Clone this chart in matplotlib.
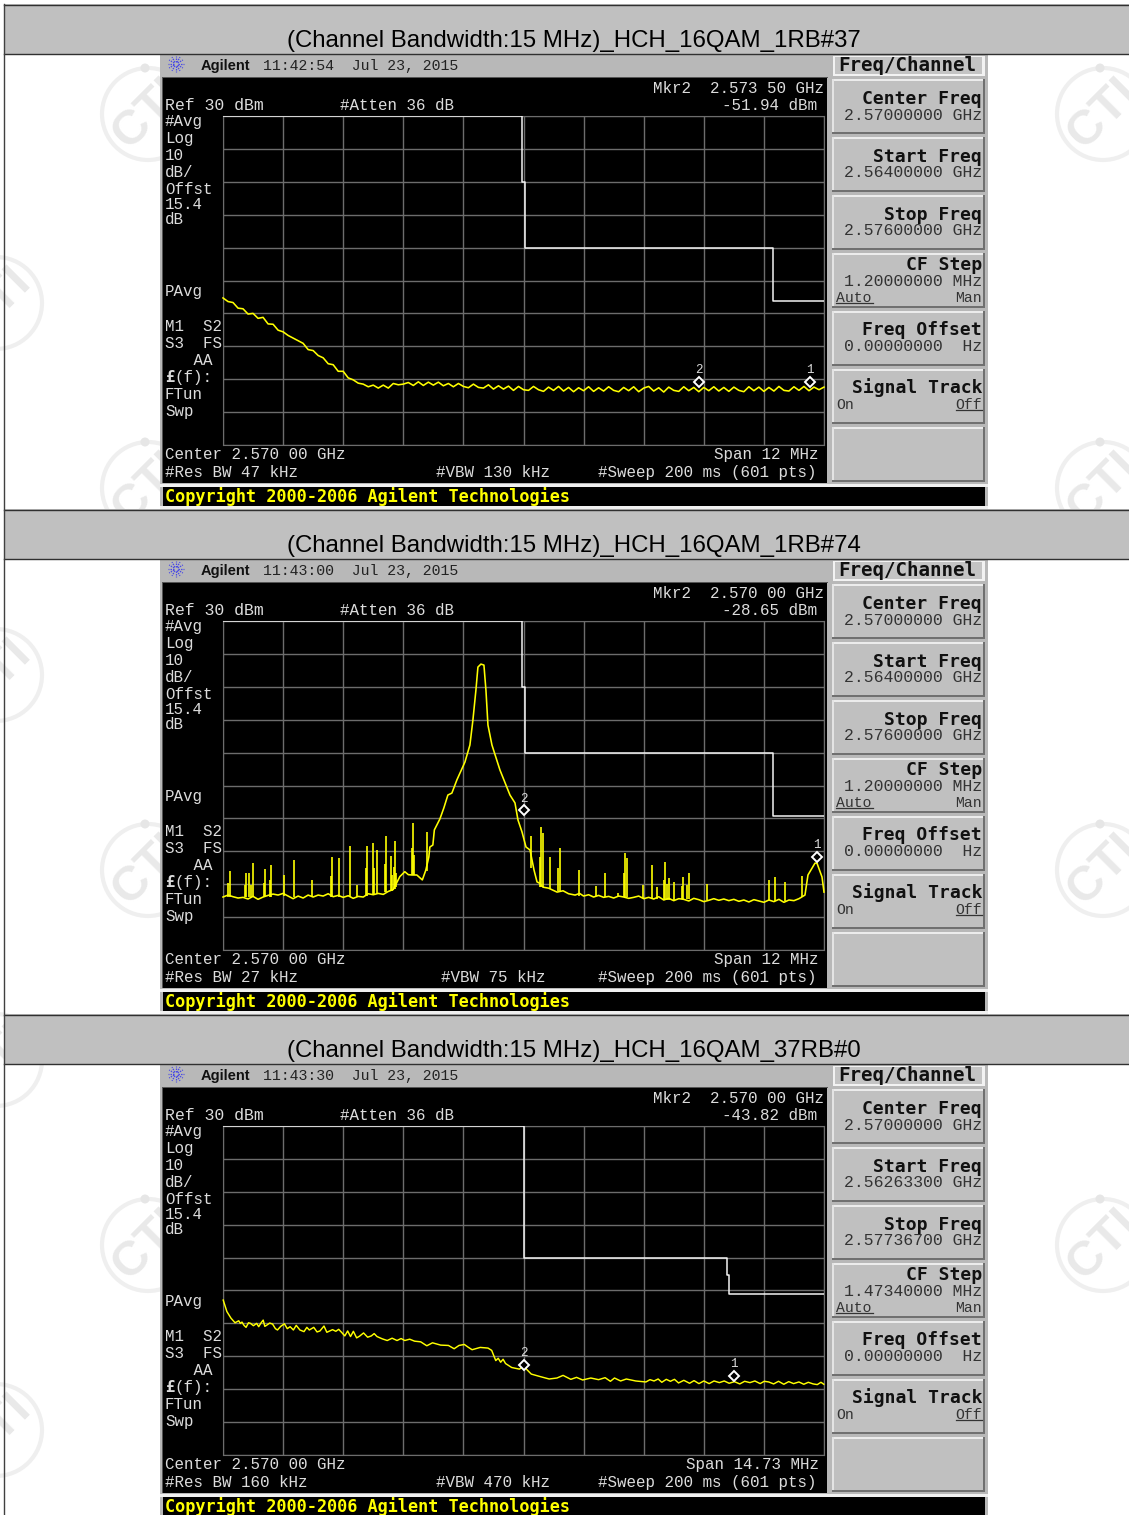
import matplotlib
matplotlib.use("Agg")
import matplotlib.pyplot as plt
import numpy as np
from matplotlib.patches import Rectangle, Circle

W, H = 1129, 1515

# text per panel
titles = ["(Channel Bandwidth:15 MHz)_HCH_16QAM_1RB#37",
          "(Channel Bandwidth:15 MHz)_HCH_16QAM_1RB#74",
          "(Channel Bandwidth:15 MHz)_HCH_16QAM_37RB#0"]
times = ["11:42:54", "11:43:00", "11:43:30"]
mkr_freq_txt = ["2.573 50 GHz", "2.570 00 GHz", "2.570 00 GHz"]
mkr_level_txt = ["-51.94 dBm", "-28.65 dBm", "-43.82 dBm"]
res_bw = ["47 kHz", "27 kHz", "160 kHz"]
vbw = ["130 kHz", "75 kHz", "470 kHz"]
vbw_x = [436, 441, 436]
span_txt = ["12 MHz", "12 MHz", "14.73 MHz"]
start_freq = ["2.56400000 GHz", "2.56400000 GHz", "2.56263300 GHz"]
stop_freq = ["2.57600000 GHz", "2.57600000 GHz", "2.57736700 GHz"]
cf_step = ["1.20000000 MHz", "1.20000000 MHz", "1.47340000 MHz"]
spans = [12.0, 12.0, 14.73]

# limit lines (MHz from center, dBm)
limit_f = [[-6, -0.02, -0.02, 0.02, 0.02, 4.98, 4.98, 6],
           [-6, -0.02, -0.02, 0.02, 0.02, 4.98, 4.98, 6],
           [-7.365, 0.0, 0.0, 4.99, 4.99, 5.04, 5.04, 7.365]]
limit_db = [[30, 30, 10, 10, -10, -10, -26.2, -26.2],
            [30, 30, 10, 10, -10, -10, -29.3, -29.3],
            [30, 30, -10, -10, -15.2, -15.2, -21, -21]]

# markers (MHz, dBm)
m1_f = [5.72, 5.86, 5.16]
m1_db = [-51.9, -42.8, -47.1]
m2_f = [3.5, 0.0, 0.0]
m2_db = [-51.94, -28.65, -43.82]

# panel 1 trace, even sweep steps
trace1_db = [-25.3, -26.4, -26.7, -28.4, -28.6, -30.2, -30.0, -31.5, -31.2, -33.2,
             -33.3, -35.1, -35.6, -36.7, -37.5, -38.3, -39.1, -41.0, -41.3, -42.8,
             -43.5, -45.3, -45.6, -47.6, -47.6, -49.6, -50.2, -51.2, -51.5, -52.3,
             -51.8, -52.7, -51.8, -52.7, -51.3, -51.7, -51.5, -51.0, -51.9, -50.8,
             -51.9, -50.9, -51.8, -50.9, -52.0, -51.3, -52.3, -51.3, -52.2, -52.6,
             -51.5, -52.5, -52.7, -51.7, -53.0, -52.0, -53.0, -52.1, -53.4, -52.2,
             -53.2, -53.4, -52.2, -53.2, -53.7, -52.4, -53.4, -52.2, -53.6, -52.5,
             -53.8, -52.6, -53.5, -52.3, -53.7, -52.6, -53.6, -52.3, -53.4, -53.8,
             -52.5, -53.5, -52.3, -53.8, -52.7, -52.2, -53.6, -52.6, -53.9, -52.4,
             -53.4, -53.7, -52.3, -53.5, -52.5, -53.8, -52.5, -53.5, -52.3, -53.6,
             -52.5, -53.7, -52.4, -53.4, -53.8, -52.3, -53.5, -52.4, -53.7, -52.5,
             -53.6, -52.2, -53.4, -53.6, -52.3, -53.4, -52.2, -53.5, -52.4, -53.2, -52.4]

# panel 2 trace floor and peak
trace2_f = [-6.0, -5.9, -5.8, -5.7, -5.6, -5.5, -5.4, -5.3, -5.2, -5.1, -5.0, -4.9, -4.8,
            -4.7, -4.6, -4.5, -4.4, -4.3, -4.2, -4.1, -4.0, -3.9, -3.8, -3.7, -3.6, -3.5,
            -3.4, -3.3, -3.2, -3.1, -3.0, -2.9, -2.8, -2.7, -2.6, -2.47, -2.37, -2.3, -2.23,
            -2.13, -2.02, -1.95, -1.89, -1.87, -1.81, -1.78, -1.67, -1.59, -1.51, -1.43,
            -1.33, -1.17, -1.07, -1.01, -0.95, -0.91, -0.85, -0.79, -0.75, -0.71, -0.63,
            -0.47, -0.27, -0.17, -0.11, -0.03, 0.05, 0.13, 0.21, 0.27, 0.31, 0.39, 0.5,
            0.67, 0.79, 0.9, 1.03, 1.12, 1.2, 1.3, 1.4, 1.5, 1.6, 1.7, 1.8, 1.9, 2.0, 2.1,
            2.2, 2.3, 2.4, 2.5, 2.6, 2.7, 2.8, 2.9, 3.0, 3.1, 3.2, 3.3, 3.4, 3.5, 3.6, 3.7,
            3.8, 3.9, 4.0, 4.1, 4.2, 4.3, 4.4, 4.5, 4.6, 4.7, 4.8, 4.9, 5.0, 5.1, 5.2, 5.3,
            5.4, 5.5, 5.62, 5.68, 5.82, 5.86, 5.96, 6.0]
trace2_db = [-53.9, -53.3, -53.8, -54.2, -54.0, -54.5, -53.7, -54.6, -53.9, -53.4, -53.0,
             -53.3, -52.8, -53.6, -54.4, -53.6, -54.2, -53.3, -53.9, -53.3, -53.6, -52.9,
             -53.8, -53.4, -54.0, -53.5, -54.3, -53.7, -53.9, -52.9, -53.2, -52.8, -53.1,
             -52.2, -51.6, -47.7, -46.2, -47.1, -47.2, -47.2, -48.7, -45.7, -41.7, -38.7,
             -38.1, -33.5, -30.2, -26.8, -22.9, -22.3, -18.3, -12.9, -7.7, -0.1, 9.0, 16.0,
             16.9, 16.6, 9.0, -1.6, -7.7, -15.3, -22.9, -25.3, -30.5, -34.1, -38.7, -39.6,
             -45.7, -49.3, -49.6, -50.9, -51.2, -52.4, -52.0, -52.9, -53.3, -52.8, -53.6,
             -53.2, -53.9, -53.4, -54.0, -53.7, -54.2, -53.6, -53.9, -54.3, -54.0, -53.6,
             -54.4, -54.0, -54.5, -53.8, -54.8, -54.3, -55.0, -54.4, -54.6, -55.1, -54.3,
             -54.7, -55.3, -54.9, -54.4, -54.9, -54.5, -55.0, -54.6, -55.2, -54.8, -55.4,
             -54.7, -55.1, -55.5, -54.8, -55.3, -54.6, -55.5, -54.8, -55.0, -54.4, -53.3,
             -47.2, -43.6, -43.6, -47.8, -52.4]

# panel 2 spurs
spur2_f = [-5.87, -5.54, -5.48, -5.41, -5.16, -5.05, -4.78, -4.58, -4.22, -3.82, -3.69, -3.46,
           -3.33, -3.12, -3.01, -2.92, -2.75, -2.65, -2.57, -2.21, -1.93, 0.15, 0.35, 0.52,
           0.73, 1.10, 1.45, 1.63, 1.88, 2.03, 2.39, 2.57, 2.66, 2.83, 2.91, 3.00, 3.18, 3.26,
           3.31, 3.66, 4.91, 5.02, 5.22, 5.56,
           -5.91, -5.56, -5.45, -5.18, -5.07, -3.84, -3.14, -2.98, -2.77, -2.63, -2.59, -2.55,
           -2.23, -2.19, 0.33, 0.38, 0.69, 2.0, 2.06, 2.81, 2.86, 3.16]
spur2_db = [-45.9, -46.7, -46.7, -43.6, -45.5, -44.2, -47.2, -42.6, -48.7, -41.6, -42.1, -38.4,
            -50.2, -38.4, -37.6, -39.6, -35.3, -41.4, -36.8, -31.5, -34.0, -35.3, -32.7, -41.8,
            -39.1, -45.7, -50.5, -46.7, -52.8, -40.4, -50.2, -44.2, -50.8, -43.2, -48.2, -49.2,
            -47.9, -50.2, -46.7, -49.9, -48.7, -47.7, -49.2, -47.5,
            -49.7, -50.2, -50.2, -49.5, -48.7, -47.5, -45.1, -45.1, -43.9, -47.2, -44.7, -46.5,
            -39.0, -41.0, -41.6, -34.4, -45.1, -46.6, -42.0, -48.7, -50.0, -50.5]
spur2_foot = [-54.0, -54.0, -54.0, -54.0, -53.8, -53.8, -53.5, -53.8, -53.5, -53.8, -53.8, -53.8,
              -53.8, -53.6, -53.2, -53.0, -52.5, -52.0, -51.6, -47.2, -46.0, -45.0, -50.8, -51.5,
              -52.2, -53.5, -53.6, -53.9, -54.0, -54.0, -54.2, -54.4, -54.4, -54.8, -54.8, -54.8,
              -54.6, -54.6, -54.6, -54.9, -55.0, -55.0, -55.0, -53.8,
              -54.0, -54.0, -54.0, -53.8, -53.8, -53.8, -53.6, -53.2, -52.5, -52.0, -51.6, -51.0,
              -47.2, -47.2, -50.8, -50.8, -52.2, -54.0, -54.0, -54.8, -54.8, -54.6]

# panel 3 trace
trace3_f = [-7.36, -7.27, -7.17, -7.07, -6.98, -6.94, -6.90, -6.85, -6.80, -6.74, -6.69, -6.62,
            -6.54, -6.49, -6.43, -6.38, -6.34, -6.30, -6.22, -6.15, -6.08, -6.03, -5.95, -5.86,
            -5.79, -5.72, -5.64, -5.57, -5.48, -5.38, -5.31, -5.25, -5.14, -5.06, -4.99, -4.89,
            -4.82, -4.75, -4.68, -4.6, -4.53, -4.46, -4.38, -4.31, -4.24, -4.17, -4.09, -4.02,
            -3.92, -3.82, -3.73, -3.66, -3.59, -3.46, -3.34, -3.22, -3.10, -3.0, -2.91, -2.79,
            -2.67, -2.52, -2.37, -2.23, -2.03, -1.84, -1.70, -1.58, -1.45, -1.36, -1.26, -1.06,
            -0.87, -0.78, -0.68, -0.62, -0.56, -0.50, -0.44, -0.29, -0.10, 0.0, 0.19, 0.39, 0.63,
            0.82, 0.97, 1.16, 1.3, 1.45, 1.65, 1.84, 2.0, 2.13, 2.23, 2.38, 2.52, 2.75, 3.00,
            3.1, 3.2, 3.3, 3.39, 3.5, 3.6, 3.7, 3.8, 3.93, 4.07, 4.18, 4.3, 4.42, 4.55, 4.67,
            4.8, 4.92, 5.04, 5.17, 5.3, 5.42, 5.55, 5.67, 5.8, 5.9, 6.01, 6.13, 6.25, 6.38, 6.5,
            6.62, 6.75, 6.87, 6.98, 7.1, 7.2, 7.29, 7.36]
trace3_db = [-22.9, -26.4, -28.4, -29.8, -29.2, -30.0, -29.6, -30.6, -31.2, -29.8, -30.0, -30.7,
             -30.0, -31.0, -29.8, -29.0, -30.9, -30.6, -29.9, -30.2, -31.6, -32.0, -30.9, -30.1,
             -31.6, -31.0, -32.0, -30.6, -32.0, -32.5, -31.2, -32.0, -31.2, -32.6, -32.3, -30.8,
             -32.7, -32.3, -31.9, -32.4, -31.8, -32.7, -33.8, -32.3, -34.0, -32.4, -34.4, -33.9,
             -32.9, -34.2, -33.8, -33.1, -34.0, -34.7, -35.2, -34.5, -35.2, -34.6, -35.2, -34.8,
             -35.4, -35.6, -36.8, -35.9, -36.6, -36.7, -37.7, -36.7, -36.4, -37.2, -38.0, -37.3,
             -37.5, -38.2, -41.3, -40.6, -41.8, -40.9, -42.2, -43.4, -43.9, -43.0, -45.4, -46.1,
             -46.9, -46.6, -45.8, -47.0, -46.4, -47.2, -46.6, -47.1, -46.5, -47.6, -46.6, -47.5,
             -46.9, -47.5, -47.8, -47.1, -47.5, -46.9, -47.9, -47.0, -47.6, -47.0, -48.1, -47.3,
             -48.2, -47.4, -48.3, -47.5, -48.3, -47.5, -48.0, -47.5, -48.2, -47.7, -48.4, -47.6,
             -48.0, -47.5, -48.3, -47.6, -47.8, -48.4, -47.6, -48.5, -47.7, -48.3, -47.8, -48.5,
             -47.9, -48.4, -48.6, -47.9, -48.5]

# softkey panel
key_tops = [79, 137, 195, 253, 311, 369, 427]
SCREEN_TXT = "#dcdcdc"
MONO = "Liberation Mono"
BOLD = "DejaVu Sans Mono"

fig = plt.figure(figsize=(W / 100, H / 100), dpi=100, facecolor="white")
bg = fig.add_axes([0, 0, 1, 1])
bg.set_xlim(0, W)
bg.set_ylim(H, 0)
bg.axis("off")


def rect(x0, y0, x1, y1, color, z=2):
    bg.add_patch(Rectangle((x0, y0), x1 - x0, y1 - y0, facecolor=color, edgecolor="none", zorder=z))


def label(x, y, s, size=11.4, color=SCREEN_TXT, ha="left", family=MONO, weight="normal"):
    bg.text(x, y + 0.8, s, fontsize=size, color=color, ha=ha, va="center", family=family, weight=weight, zorder=6)


def watermark(x, y):
    bg.add_patch(Circle((x, y), 46, fill=False, edgecolor="#efefef", lw=3, zorder=1))
    bg.add_patch(Circle((x - 3, y - 46), 4.5, facecolor="#e6e6e6", edgecolor="none", zorder=1))
    bg.text(x, y, "CTI", fontsize=35, rotation=45, color="#e9e9e9", weight="bold",
            ha="center", va="center", family="Liberation Sans", zorder=1)


for wy in [114, 488, 870, 1245]:
    watermark(148, wy)
    watermark(1103, wy)
for wy in [303, 675, 1060, 1430]:
    watermark(-4, wy)


def softkey(top, bottom):
    rect(832, top, 985, bottom, "#c0c0c0", z=3)
    rect(832, top, 985, top + 2, "#ececec", z=4)
    rect(832, top, 834, bottom, "#e4e4e4", z=4)
    rect(832, bottom - 2, 985, bottom, "#707070", z=4)
    rect(983, top, 985, bottom, "#707070", z=4)


def logo(x, y):
    for a in np.arange(0, 360, 30):
        c, s = np.cos(np.radians(a)), np.sin(np.radians(a))
        bg.plot([x + 2 * c, x + 8 * c], [y + 2 * s, y + 8 * s], color="#4a4ae6", lw=0.9, ls=(0, (1.2, 0.8)), zorder=5)


for i in range(3):
    t = i * 505
    # title band
    rect(4, t + 4, W, t + 54, "#c0c0c0", z=2)
    bg.plot([4, W], [t + 4.5, t + 4.5], color="#303030", lw=1, zorder=3)
    bg.plot([4, W], [t + 54, t + 54], color="#303030", lw=1, zorder=3)
    bg.text(573.5, t + 41, titles[i], fontsize=17.25, family="Liberation Sans", color="black",
            ha="center", va="center", zorder=6)

    # instrument frame
    rect(160, t + 55, 988, t + 510, "#b8b8b8", z=2)
    rect(163, t + 78, 827, t + 483, "black", z=3)
    rect(162, t + 77, 828, t + 78, "#555555", z=3)
    rect(162, t + 78, 163, t + 483, "#555555", z=3)
    rect(160, t + 484, 988, t + 487, "#f0f0f0", z=3)
    rect(163, t + 487, 985, t + 506, "black", z=3)
    rect(160, t + 506, 988, t + 509, "#f0f0f0", z=3)
    logo(176, t + 64)
    label(201, t + 65, "Agilent", size=10.5, color="#111111", family="Liberation Sans", weight="bold")
    label(263, t + 65, times[i] + "  Jul 23, 2015", size=10.7, color="#222222")
    label(165, t + 496, "Copyright 2000-2006 Agilent Technologies", size=12.2, color="#ffff00", family=BOLD, weight="bold")

    # softkeys
    rect(833, t + 56, 985, t + 76, "#f2f2f2", z=3)
    rect(835, t + 57, 982, t + 74, "#c4c4c4", z=4)
    label(838, t + 65, "Freq/Channel", size=13.8, color="#111111", family=BOLD, weight="bold")
    for k in key_tops:
        softkey(t + k, t + k + 55)
    names = ["Center Freq", "Start Freq", "Stop Freq", "CF Step", "Freq Offset", "Signal Track"]
    name_y = [98, 156, 214, 264, 329, 387]
    vals = ["2.57000000 GHz", start_freq[i], stop_freq[i], cf_step[i], "0.00000000  Hz"]
    val_y = [115, 172, 230, 281, 346]
    for n, y in zip(names, name_y):
        label(982, t + y, n, size=13, color="#111111", ha="right", family=BOLD, weight="bold")
    for v, y in zip(vals, val_y):
        label(982, t + y, v, size=11.9, color="#333333", ha="right")
    label(836, t + 297, "Auto", size=10.6, color="#333333")
    bg.plot([836, 873], [t + 303, t + 303], color="#333333", lw=0.9, zorder=6)
    label(982, t + 297, "Man", size=10.6, color="#333333", ha="right")
    label(836, t + 404, "On", size=10.6, color="#333333")
    label(982, t + 404, "Off", size=10.6, color="#333333", ha="right")
    bg.plot([956, 982], [t + 410, t + 410], color="#333333", lw=0.9, zorder=6)

    # screen text
    label(165, t + 105, "Ref 30 dBm", size=11.9)
    label(340, t + 105, "#Atten 36 dB")
    label(824, t + 88, "Mkr2  " + mkr_freq_txt[i], ha="right")
    label(817, t + 105, mkr_level_txt[i], ha="right")
    left_txt = ["#Avg", "Log", "10", "dB/", "Offst", "15.4", "dB", "PAvg", "M1  S2", "S3  FS", "   AA", "FTun", "Swp"]
    left_y = [121, 138, 155, 172, 189, 204, 219, 291, 326, 343, 360, 394, 411]
    for s, y in zip(left_txt, left_y):
        label(165, t + y, s)
    label(165, t + 377, "£", weight="bold", family=BOLD)
    label(174.5, t + 377, "(f):")
    label(165, t + 454, "Center 2.570 00 GHz")
    label(819, t + 454, "Span " + span_txt[i], ha="right")
    label(165, t + 472, "#Res BW " + res_bw[i])
    label(vbw_x[i], t + 472, "#VBW " + vbw[i])
    label(817, t + 472, "#Sweep 200 ms (601 pts)", ha="right")

    # plot area
    ax = fig.add_axes([223 / W, 1 - (t + 445) / H, 601 / W, 329 / H], facecolor="black", zorder=5)
    half = spans[i] / 2
    ax.set_xlim(-half, half)
    ax.set_ylim(-70, 30)
    ax.set_xticks(np.linspace(-half, half, 11))
    ax.set_yticks(np.arange(-70, 31, 10))
    ax.grid(color="#6c6c6c", lw=1)
    ax.set_axisbelow(True)
    ax.tick_params(length=0, labelbottom=False, labelleft=False)
    for sp in ax.spines.values():
        sp.set_color("#6c6c6c")

    ax.plot(limit_f[i], limit_db[i], color="#f4f4f4", lw=1.1, zorder=3)
    if i == 0:
        ax.plot(np.linspace(-6, 6, len(trace1_db)), trace1_db, color="#ffff00", lw=1.15, zorder=4, clip_on=False)
    elif i == 1:
        ax.plot(trace2_f, trace2_db, color="#ffff00", lw=1.15, zorder=4, clip_on=False)
        ax.vlines(spur2_f, spur2_foot, spur2_db, color="#ffff00", lw=1.2, zorder=4)
    else:
        ax.plot(trace3_f, trace3_db, color="#ffff00", lw=1.05, zorder=4, clip_on=False)

    for num, f, db in (("1", m1_f[i], m1_db[i]), ("2", m2_f[i], m2_db[i])):
        ax.plot([f], [db + 1.1], marker="D", ms=5.6, mfc="black", mec="white", mew=1.4, zorder=6, clip_on=False)
        ax.annotate(num, (f, db + 1.1), xytext=(0, 8.5), textcoords="offset points", ha="center", va="center",
                    fontsize=9, color=SCREEN_TXT, family=MONO, zorder=6, annotation_clip=False)

# left edge of the table
bg.plot([4, 4], [4, H], color="#404040", lw=1, zorder=7)

fig.savefig("out.png", dpi=100, facecolor="white")
